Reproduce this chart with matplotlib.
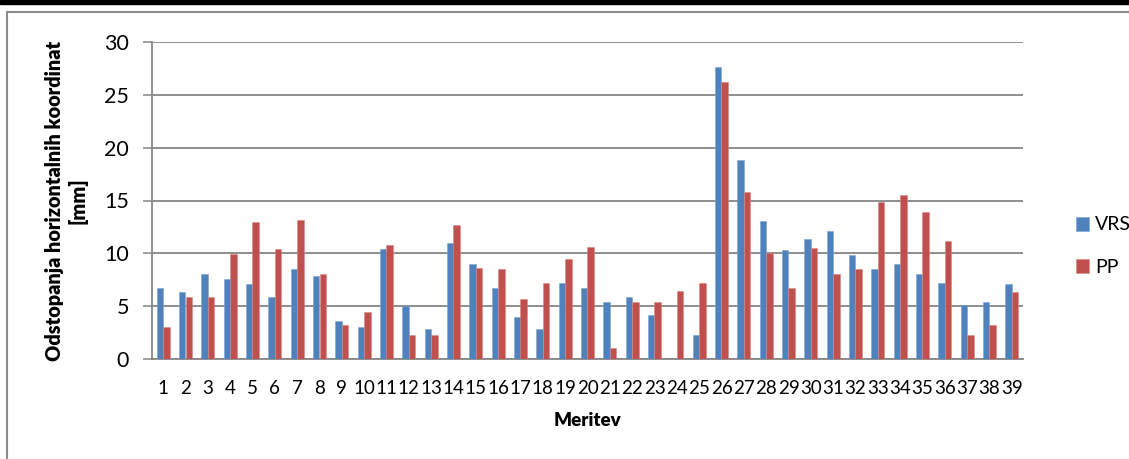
import matplotlib
matplotlib.use("Agg")
import matplotlib.pyplot as plt
import numpy as np
from matplotlib.patches import Rectangle
from matplotlib.lines import Line2D

categories = [str(i) for i in range(1, 40)]
vrs = [6.68, 6.3, 8.0, 7.6, 7.06, 5.83, 8.54, 7.81, 3.6, 3.0,
       10.43, 5.0, 2.8, 11.0, 8.95, 6.71, 4.0, 2.8, 7.18, 6.71,
       5.39, 5.83, 4.13, 0.0, 2.24, 27.6, 18.84, 13.04, 10.3, 11.4,
       12.07, 9.83, 8.54, 8.95, 8.07, 7.18, 5.1, 5.39, 7.06]
pp = [3.0, 5.83, 5.83, 9.9, 12.98, 10.43, 13.14, 8.07, 3.18, 4.44,
      10.78, 2.24, 2.24, 12.67, 8.6, 8.54, 5.67, 7.18, 9.48, 10.62,
      1.0, 5.39, 5.39, 6.4, 7.18, 26.18, 15.78, 10.02, 6.71, 10.46,
      8.07, 8.54, 14.84, 15.53, 13.93, 11.18, 2.24, 3.18, 6.33]
yticks = [0, 5, 10, 15, 20, 25, 30]
series_names = ["VRS", "PP"]

plt.rcParams['font.family'] = ['Lato', 'DejaVu Sans']

fig = plt.figure(figsize=(11.29, 4.59), dpi=100)
fig.patch.set_facecolor('white')
ax = fig.add_axes([152/1129, 1-359/459, (1023-152)/1129, (359-42)/459])

x = np.arange(len(categories))
w = 0.287
blue = '#4F81BD'
red = '#C0504D'
ax.bar(x - w/2, vrs, width=w, color=blue, edgecolor='#7FA3D3', linewidth=0.4, label=series_names[0], zorder=3)
ax.bar(x + w/2, pp, width=w, color=red, edgecolor='#D98A88', linewidth=0.4, label=series_names[1], zorder=3)

ax.set_xlim(-0.5, len(categories) - 0.5)
ax.set_ylim(0, 30)
ax.set_yticks(yticks)
ax.set_yticklabels([str(t) for t in yticks], fontsize=15.5)
ax.set_xticks(x)
ax.set_xticklabels(categories, fontsize=13.5)
ax.tick_params(axis='x', length=0, pad=15)
ax.tick_params(axis='y', length=6.5, width=1.1, color='#868686', pad=10)
ax.yaxis.grid(True, color='#868686', linewidth=1.3, zorder=0)
ax.set_axisbelow(True)
for s in ['top', 'right']:
    ax.spines[s].set_visible(False)
for s in ['left', 'bottom']:
    ax.spines[s].set_color('#868686')
    ax.spines[s].set_linewidth(1.3)

ax.set_xlabel("Meritev", fontsize=13.5, fontweight='heavy', labelpad=11)
ax.set_ylabel("Odstopanja horizontalnih koordinat\n[mm]", fontsize=14.3,
              fontweight='heavy', linespacing=1.2)
ax.yaxis.set_label_coords(-0.074, 0.5)

leg = fig.legend(loc='upper left', bbox_to_anchor=(1058/1129, 1-199/459),
                 frameon=False, fontsize=14, handlelength=0.7, handleheight=0.7,
                 labelspacing=1.3, handletextpad=0.3)

# outer frame and top bar
fig.add_artist(Rectangle((0, 1-4/459), 1, 4/459, transform=fig.transFigure,
                         color='black', zorder=10))
fig.add_artist(Line2D([7/1129, 1], [1-12/459, 1-12/459], transform=fig.transFigure,
                      color='#8C8C8C', linewidth=1.5))
fig.add_artist(Line2D([7/1129, 7/1129], [0, 1-12/459], transform=fig.transFigure,
                      color='#8C8C8C', linewidth=1.5))

fig.savefig("out.png", dpi=100, facecolor='white')
